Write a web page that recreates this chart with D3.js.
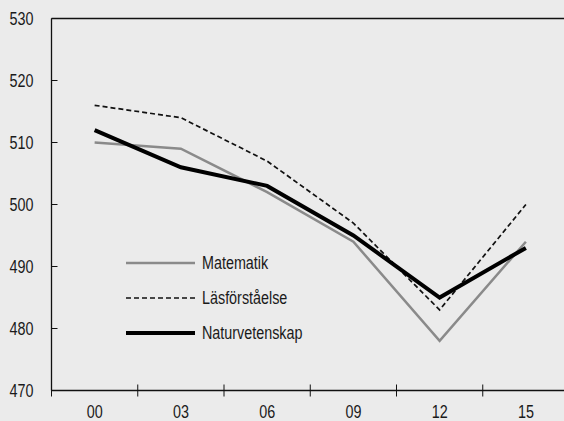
<!DOCTYPE html>
<html><head><meta charset="utf-8">
<script src="https://cdn.jsdelivr.net/npm/d3@7"></script>
<style>
html,body{margin:0;padding:0;background:#ebebeb;}
svg{display:block;}
text{font-family:"Liberation Sans",Arial,sans-serif;fill:#1a1a1a;}
</style></head>
<body>
<svg id="c" width="564" height="421"></svg>
<script>
const categories = ["00","03","06","09","12","15"];
const matematik = [510, 509, 502, 494, 478, 494];
const lasforstaelse = [516, 514, 507, 497, 483, 500];
const naturvetenskap = [512, 506, 503, 495, 485, 493];
const yTicks = [470, 480, 490, 500, 510, 520, 530];
const seriesNames = ["Matematik", "Läsförståelse", "Naturvetenskap"];

const svg = d3.select("#c");
svg.append("rect").attr("width",564).attr("height",421).attr("fill","#ebebeb");

const mLeft = 51.5, mRight = 569, mTop = 18.5, mBottom = 390.5;
const x = d3.scaleBand().domain(categories).range([mLeft, mRight]);
const y = d3.scaleLinear().domain([470, 530]).range([mBottom, mTop]);
const SX = 0.82;

// y axis
const gy = svg.append("g").attr("transform", `translate(${mLeft},0)`);
gy.append("line").attr("y1", y(530)).attr("y2", y(470)).attr("stroke","#111").attr("stroke-width",1.3);
gy.selectAll("line.t").data(yTicks.filter(d=>d>470)).enter().append("line")
  .attr("x1",0).attr("x2",6).attr("y1",d=>y(d)).attr("y2",d=>y(d)).attr("stroke","#111").attr("stroke-width",1);
gy.selectAll("text").data(yTicks).enter().append("text")
  .attr("transform",d=>`translate(-18,${y(d)+6.3}) scale(${SX},1)`).attr("text-anchor","end")
  .attr("font-size",17.5).text(d=>d);
// top border
svg.append("line").attr("x1",mLeft).attr("x2",564).attr("y1",mTop).attr("y2",mTop).attr("stroke","#111").attr("stroke-width",1.3);

// x axis
const gx = svg.append("g");
gx.append("line").attr("x1",mLeft).attr("x2",564).attr("y1",mBottom).attr("y2",mBottom).attr("stroke","#111").attr("stroke-width",1.3);
gx.selectAll("line.t").data(categories).enter().append("line")
  .attr("x1",d=>x(d)).attr("x2",d=>x(d)).attr("y1",mBottom-6).attr("y2",mBottom+6).attr("stroke","#111").attr("stroke-width",1);
gx.selectAll("text").data(categories).enter().append("text")
  .attr("transform",d=>`translate(${x(d)+x.bandwidth()/2},418) scale(${SX},1)`).attr("text-anchor","middle")
  .attr("font-size",17.5).text(d=>d);

const line = d3.line().x((d,i)=>x(categories[i])+x.bandwidth()/2).y(d=>y(d));
const styles = [
  {data: matematik, stroke:"#8a8a8a", w:2.5, dash:null},
  {data: lasforstaelse, stroke:"#111", w:1.7, dash:"5,3"},
  {data: naturvetenskap, stroke:"#000", w:4, dash:null}
];
styles.forEach(s=>{
  svg.append("path").datum(s.data).attr("d",line).attr("fill","none")
    .attr("stroke",s.stroke).attr("stroke-width",s.w).attr("stroke-dasharray",s.dash)
    .attr("stroke-linejoin","miter");
});

// legend
const lg = svg.append("g");
const legY = [263, 298, 333];
styles.forEach((s,i)=>{
  lg.append("line").attr("x1",126).attr("x2",195).attr("y1",legY[i]).attr("y2",legY[i])
    .attr("stroke",s.stroke).attr("stroke-width",s.w).attr("stroke-dasharray",s.dash);
  lg.append("text").attr("transform",`translate(202,${legY[i]+6}) scale(${SX},1)`)
    .attr("font-size",17.5).text(seriesNames[i]);
});
</script>
</body></html>
